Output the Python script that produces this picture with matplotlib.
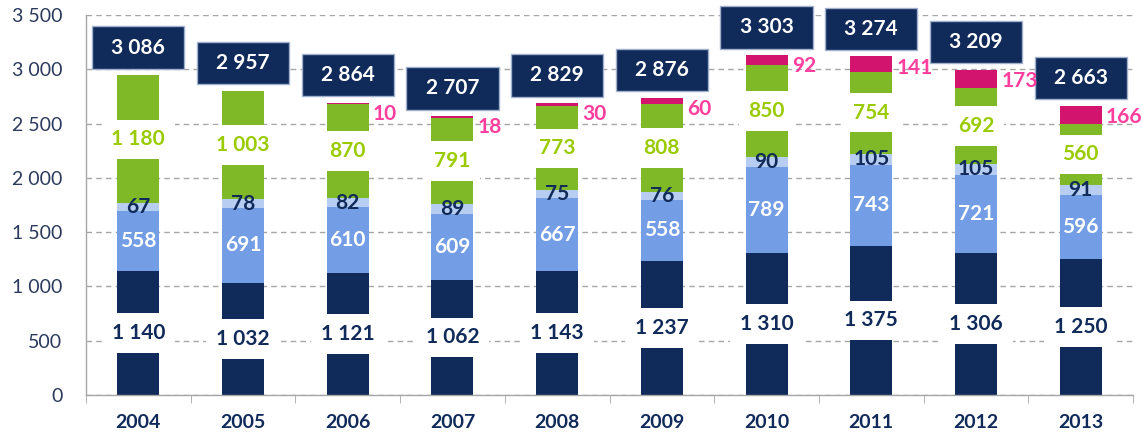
import numpy as np
import matplotlib
matplotlib.use('Agg')
import matplotlib.pyplot as plt
from matplotlib.patches import Rectangle

plt.rcParams['font.family'] = ['Lato', 'DejaVu Sans']

# data
years = ['2004', '2005', '2006', '2007', '2008', '2009', '2010', '2011', '2012', '2013']
navy_vals = [1140, 1032, 1121, 1062, 1143, 1237, 1310, 1375, 1306, 1250]
blue_vals = [558, 691, 610, 609, 667, 558, 789, 743, 721, 596]
pale_vals = [67, 78, 82, 89, 75, 76, 90, 105, 105, 91]
green_vals = [1180, 1003, 870, 791, 773, 808, 850, 754, 692, 560]
pink_vals = [0, 0, 10, 18, 30, 60, 92, 141, 173, 166]
totals = [3086, 2957, 2864, 2707, 2829, 2876, 3303, 3274, 3209, 2663]

NAVY = '#102A5A'
BLUE = '#739DE5'
PALE = '#B7CDF2'
GREEN = '#80B928'
PINK = '#D3146F'
GREEN_TXT = '#9ACB00'
PINK_TXT = '#FF3E9E'
TICK_TXT = '#2B3A5C'


def fmt(v):
    return f'{v:,}'.replace(',', ' ')


fig = plt.figure(figsize=(11.43, 4.37), dpi=100)
ax = fig.add_axes([0.0752, 0.0961, 0.9161, 0.8696])

x = np.arange(len(years))
w = 0.4
navy = np.array(navy_vals)
blue = np.array(blue_vals)
pale = np.array(pale_vals)
green = np.array(green_vals)
pink = np.array(pink_vals)

b1 = navy
b2 = b1 + blue
b3 = b2 + pale
b4 = b3 + green
top = b4 + pink

ax.bar(x, navy, w, color=NAVY, zorder=2)
ax.bar(x, blue, w, bottom=b1, color=BLUE, zorder=2)
ax.bar(x, pale, w, bottom=b2, color=PALE, zorder=2)
ax.bar(x, green, w, bottom=b3, color=GREEN, zorder=2)
ax.bar(x, pink, w, bottom=b4, color=PINK, zorder=2)

fs = 15
white_box = dict(facecolor='white', edgecolor='none', pad=7)
for i in range(len(years)):
    ax.text(x[i], navy[i] / 2, fmt(navy[i]), ha='center', va='center',
            fontsize=fs, fontweight='bold', color=NAVY, bbox=white_box, zorder=4)
    ax.text(x[i], b1[i] + blue[i] / 2, fmt(blue[i]), ha='center', va='center',
            fontsize=fs, fontweight='bold', color='white', zorder=4)
    ax.text(x[i], b2[i] + pale[i] / 2, fmt(pale[i]), ha='center', va='center',
            fontsize=fs, fontweight='bold', color=NAVY, zorder=4)
    ax.text(x[i], b3[i] + green[i] / 2, fmt(green[i]), ha='center', va='center',
            fontsize=fs, fontweight='bold', color=GREEN_TXT, bbox=white_box, zorder=4)
    if pink[i] > 0:
        # label sits just right of the bar, a little below its top
        ax.annotate(fmt(pink[i]), (x[i] + w / 2, top[i]), xytext=(3, -8),
                    textcoords='offset points', ha='left', va='center',
                    fontsize=fs, fontweight='bold', color=PINK_TXT, zorder=7)
    # total in a navy box above the bar
    bw, bh = 0.88, 390
    y0 = top[i] + 60
    ax.add_patch(Rectangle((x[i] - bw / 2, y0), bw, bh, facecolor=NAVY,
                           edgecolor='#9FB0CC', linewidth=1, zorder=5, clip_on=False))
    ax.text(x[i], y0 + bh / 2, fmt(totals[i]), ha='center', va='center',
            fontsize=fs, fontweight='bold', color='white', zorder=6, clip_on=False)

ax.set_xlim(-0.5, len(years) - 0.5)
ax.set_ylim(0, 3500)
ax.set_yticks(np.arange(0, 3501, 500))
ax.set_yticklabels([fmt(v) for v in range(0, 3501, 500)])
ax.yaxis.grid(True, linestyle=(0, (4, 3)), color='#A6A6A6', linewidth=1)
ax.set_axisbelow(True)

ax.set_xticks(x)
ax.set_xticklabels(years, fontweight='bold')
ax.set_xticks(np.arange(-0.5, len(years), 1), minor=True)
ax.tick_params(axis='x', which='major', length=0, pad=14, labelsize=14, labelcolor=NAVY)
ax.tick_params(axis='x', which='minor', length=6, color='#A6A6A6', direction='out')
ax.tick_params(axis='y', length=0, pad=17, labelsize=14, labelcolor=TICK_TXT)

for s in ['top', 'right']:
    ax.spines[s].set_visible(False)
for s in ['left', 'bottom']:
    ax.spines[s].set_color('#A6A6A6')
    ax.spines[s].set_linewidth(1)

fig.savefig('out.png', dpi=100)
